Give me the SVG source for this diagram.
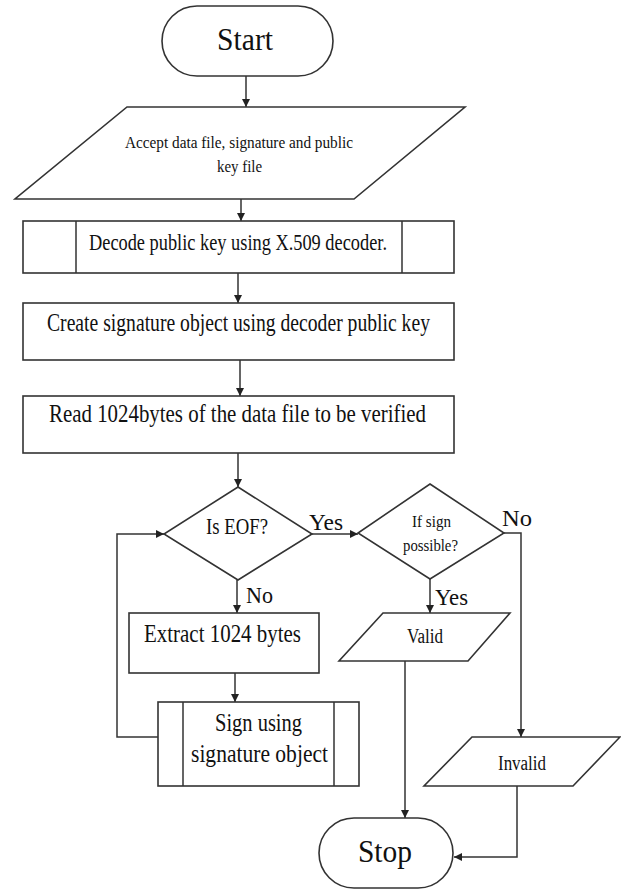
<svg xmlns="http://www.w3.org/2000/svg" width="621" height="890" viewBox="0 0 621 890">
  <style>
    .shape { fill: #ffffff; stroke: #333333; stroke-width: 1.6; }
    .line { fill: none; stroke: #333333; stroke-width: 1.5; }
    .t { font-family: "Liberation Serif", "Times New Roman", serif; fill: #111111; text-anchor: middle; }
    .lbl { font-family: "Liberation Serif", "Times New Roman", serif; fill: #111111; font-size: 24px; }
  </style>
  <defs>
    <marker id="arrow" viewBox="0 0 8 8" refX="8" refY="4" markerWidth="8" markerHeight="8" markerUnits="userSpaceOnUse" orient="auto">
      <path d="M0,0 L8,4 L0,8 z" fill="#222222"/>
    </marker>
  </defs>
  <rect width="621" height="890" fill="#ffffff"/>

  <!-- connectors -->
  <g id="connectors">
    <path class="line" d="M246,76 V107" marker-end="url(#arrow)"/>
    <path class="line" d="M241,199 V221" marker-end="url(#arrow)"/>
    <path class="line" d="M238,273 V303" marker-end="url(#arrow)"/>
    <path class="line" d="M240,360 V396" marker-end="url(#arrow)"/>
    <path class="line" d="M238,453 V487" marker-end="url(#arrow)"/>
    <path class="line" d="M237,580 V613" marker-end="url(#arrow)"/>
    <path class="line" d="M235,673 V702" marker-end="url(#arrow)"/>
    <path class="line" d="M158,737 H117 V534 H164" marker-end="url(#arrow)"/>
    <path class="line" d="M312,534 H358" marker-end="url(#arrow)"/>
    <path class="line" d="M430,579 V613" marker-end="url(#arrow)"/>
    <path class="line" d="M504,533 H521 V737" marker-end="url(#arrow)"/>
    <path class="line" d="M405,661 V818" marker-end="url(#arrow)"/>
    <path class="line" d="M517,786 V857 H454" marker-end="url(#arrow)"/>
    <text class="lbl" x="309" y="530" textLength="34" lengthAdjust="spacingAndGlyphs">Yes</text>
    <text class="lbl" x="246" y="603" textLength="27" lengthAdjust="spacingAndGlyphs">No</text>
    <text class="lbl" x="502" y="526" textLength="30" lengthAdjust="spacingAndGlyphs">No</text>
    <text class="lbl" x="435" y="605" textLength="33" lengthAdjust="spacingAndGlyphs">Yes</text>
  </g>

  <g id="start">
    <rect class="shape" x="162" y="6" width="171" height="70" rx="35" ry="35"/>
    <text class="t" x="245" y="50" font-size="31" textLength="56" lengthAdjust="spacingAndGlyphs">Start</text>
  </g>

  <g id="accept-input">
    <polygon class="shape" points="127,107 465,107 354,199 15,199"/>
    <text class="t" x="239" y="148" font-size="16" textLength="228" lengthAdjust="spacingAndGlyphs">Accept data file, signature and public</text>
    <text class="t" x="239.5" y="172" font-size="16" textLength="45" lengthAdjust="spacingAndGlyphs">key file</text>
  </g>

  <g id="decode-key">
    <rect class="shape" x="23" y="221" width="431" height="52"/>
    <path class="line" d="M76,221 V273 M402,221 V273"/>
    <text class="t" x="238" y="250" font-size="23" textLength="298" lengthAdjust="spacingAndGlyphs">Decode public key using X.509 decoder.</text>
  </g>

  <g id="create-signature">
    <rect class="shape" x="23" y="303" width="431" height="57"/>
    <text class="t" x="238.5" y="331" font-size="25" textLength="383" lengthAdjust="spacingAndGlyphs">Create signature object using decoder public key</text>
  </g>

  <g id="read-bytes">
    <rect class="shape" x="23" y="396" width="431" height="57"/>
    <text class="t" x="237.5" y="422" font-size="25" textLength="377" lengthAdjust="spacingAndGlyphs">Read 1024bytes of the data file to be verified</text>
  </g>

  <g id="is-eof">
    <polygon class="shape" points="238,487 312,534 238,580 164,534"/>
    <text class="t" x="237" y="534" font-size="24" textLength="62" lengthAdjust="spacingAndGlyphs">Is EOF?</text>
  </g>

  <g id="sign-possible">
    <polygon class="shape" points="430,484 504,533 430,579 358,533"/>
    <text class="t" x="431.5" y="527" font-size="17" textLength="39" lengthAdjust="spacingAndGlyphs">If sign</text>
    <text class="t" x="430.5" y="551" font-size="17" textLength="55" lengthAdjust="spacingAndGlyphs">possible?</text>
  </g>

  <g id="extract-bytes">
    <rect class="shape" x="129" y="613" width="190" height="60"/>
    <text class="t" x="222.5" y="642" font-size="25" textLength="157" lengthAdjust="spacingAndGlyphs">Extract 1024 bytes</text>
  </g>

  <g id="sign-object">
    <rect class="shape" x="158" y="702" width="201" height="84"/>
    <path class="line" d="M183,702 V786 M334,702 V786"/>
    <text class="t" x="258.5" y="731" font-size="25" textLength="87" lengthAdjust="spacingAndGlyphs">Sign using</text>
    <text class="t" x="259.5" y="762" font-size="25" textLength="137" lengthAdjust="spacingAndGlyphs">signature object</text>
  </g>

  <g id="valid">
    <polygon class="shape" points="383,613 510,613 468,661 339,661"/>
    <text class="t" x="425" y="643" font-size="20" textLength="36" lengthAdjust="spacingAndGlyphs">Valid</text>
  </g>

  <g id="invalid">
    <polygon class="shape" points="472,737 620,737 573,786 424,786"/>
    <text class="t" x="522" y="770" font-size="20" textLength="48" lengthAdjust="spacingAndGlyphs">Invalid</text>
  </g>

  <g id="stop">
    <rect class="shape" x="319" y="818" width="134" height="70" rx="35" ry="35"/>
    <text class="t" x="385" y="862" font-size="31" textLength="54" lengthAdjust="spacingAndGlyphs">Stop</text>
  </g>
</svg>
